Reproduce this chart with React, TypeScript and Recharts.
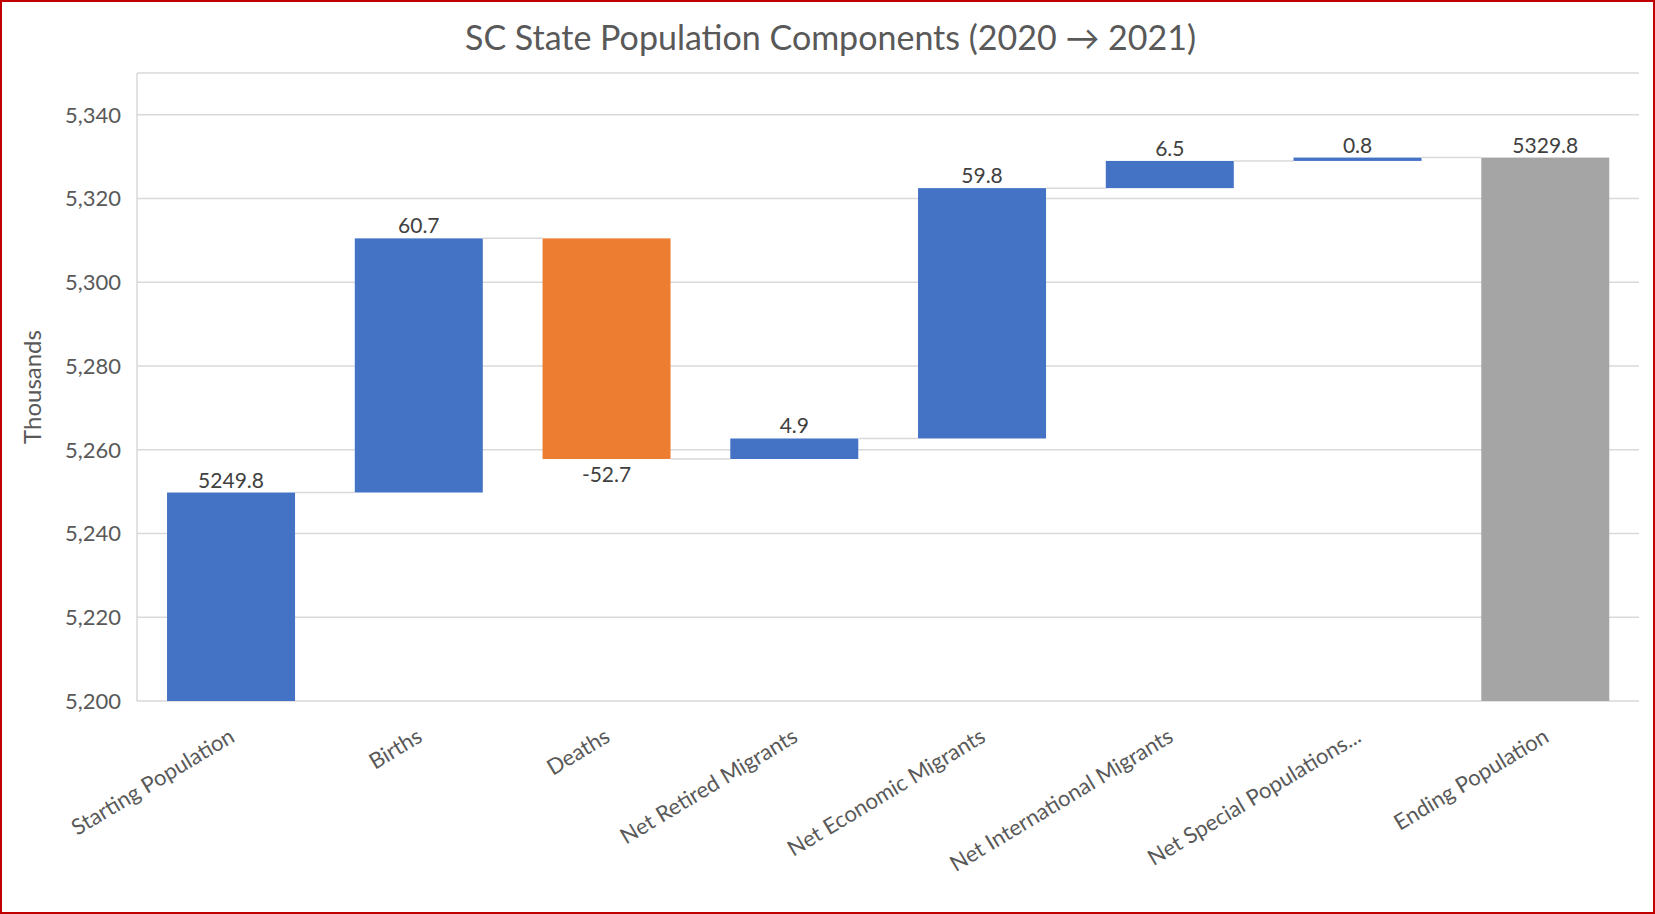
import { BarChart, Bar, XAxis, YAxis, CartesianGrid, LabelList } from "recharts";

const categories = [
  "Starting Population",
  "Births",
  "Deaths",
  "Net Retired Migrants",
  "Net Economic Migrants",
  "Net International Migrants",
  "Net Special Populations...",
  "Ending Population",
];
const startingPopulation = 5249.8;
const componentChanges = [60.7, -52.7, 4.9, 59.8, 6.5, 0.8];
const endingPopulation = 5329.8;
const yTicks = [5200, 5220, 5240, 5260, 5280, 5300, 5320, 5340];

const WIDTH = 1655;
const HEIGHT = 914;
const MARGIN = { top: 73, right: 16, bottom: 0, left: 0 };
const Y_AXIS_W = 137;
const X_AXIS_H = 213;
const PLOT_W = WIDTH - MARGIN.left - MARGIN.right - Y_AXIS_W;
const STEP = PLOT_W / categories.length;
const FONT = "Lato, 'Open Sans', sans-serif";

const COLORS = { up: "#4472C4", down: "#ED7D31", total: "#A5A5A5" };

type Kind = "up" | "down" | "total";
type Row = { name: string; range: [number, number]; label: string; kind: Kind };

// running totals for the floating bars
const rows: Row[] = [];
let running = startingPopulation;
rows.push({
  name: categories[0],
  range: [0, startingPopulation],
  label: startingPopulation.toFixed(1),
  kind: "up",
});
componentChanges.forEach((c, i) => {
  const next = running + c;
  rows.push({
    name: categories[i + 1],
    range: [Math.min(running, next), Math.max(running, next)],
    label: c.toFixed(1),
    kind: c >= 0 ? "up" : "down",
  });
  running = next;
});
rows.push({
  name: categories[categories.length - 1],
  range: [0, endingPopulation],
  label: endingPopulation.toFixed(1),
  kind: "total",
});

function WaterfallBar(props: any) {
  const { x, y, width, height, index } = props;
  const row = rows[index];
  const top = Math.min(y, y + height);
  const h = Math.abs(height);
  const level = row.kind === "down" ? top + h : top;
  const last = index === rows.length - 1;
  return (
    <g>
      <rect x={x} y={top} width={width} height={h} fill={COLORS[row.kind]} />
      {!last && (
        <line
          x1={x + width}
          x2={x + STEP}
          y1={level}
          y2={level}
          stroke="#D9D9D9"
          strokeWidth={1.5}
        />
      )}
    </g>
  );
}

function ValueLabel(props: any) {
  const vb = props.viewBox ?? props;
  const x = props.x ?? vb.x;
  const y = props.y ?? vb.y;
  const width = props.width ?? vb.width;
  const height = props.height ?? vb.height;
  const row = rows[props.index];
  const top = Math.min(y, y + height);
  const bottom = Math.max(y, y + height);
  const cx = x + width / 2;
  const common = {
    x: cx,
    textAnchor: "middle" as const,
    fill: "#404040",
    fontSize: 21,
    fontFamily: FONT,
  };
  if (row.kind === "down") {
    return (
      <text {...common} y={bottom + 7} dy="0.78em">
        {row.label}
      </text>
    );
  }
  return (
    <text {...common} y={top - 5}>
      {row.label}
    </text>
  );
}

function CategoryTick({ x, y, payload }: any) {
  return (
    <g transform={`translate(${x - 3},${y + 26})`}>
      <text
        textAnchor="end"
        transform="rotate(-31)"
        dy="0.72em"
        fill="#595959"
        fontSize={22}
        fontFamily={FONT}
      >
        {payload.value}
      </text>
    </g>
  );
}

export default function App() {
  return (
    <div
      style={{
        position: "absolute",
        left: 0,
        top: 0,
        width: WIDTH,
        height: HEIGHT,
        background: "#fff",
        fontFamily: FONT,
        overflow: "hidden",
      }}
    >
      <div
        style={{
          position: "absolute",
          left: 0,
          top: 16,
          width: WIDTH,
          textAlign: "center",
          fontSize: 34,
          color: "#595959",
          paddingLeft: 3,
        }}
      >
        SC State Population Components (2020 → 2021)
      </div>
      <div
        style={{
          position: "absolute",
          left: 31,
          top: 387,
          transform: "translate(-50%, -50%) rotate(-90deg)",
          fontSize: 24,
          color: "#595959",
          whiteSpace: "nowrap",
        }}
      >
        Thousands
      </div>
      <BarChart
        width={WIDTH}
        height={HEIGHT}
        data={rows}
        margin={MARGIN}
        barCategoryGap="16%"
      >
        <CartesianGrid vertical={false} stroke="#D9D9D9" strokeWidth={1.5} />
        <XAxis
          dataKey="name"
          interval={0}
          height={X_AXIS_H}
          axisLine={false}
          tickLine={false}
          tickSize={0}
          tickMargin={0}
          tick={<CategoryTick />}
        />
        <YAxis
          width={Y_AXIS_W}
          domain={[5200, 5350]}
          ticks={yTicks}
          allowDataOverflow
          tickLine={false}
          tickSize={0}
          tickMargin={16}
          axisLine={{ stroke: "#D9D9D9", strokeWidth: 1.5 }}
          tickFormatter={(v: number) => v.toLocaleString("en-US")}
          tick={{ fill: "#595959", fontSize: 22, fontFamily: FONT }}
        />
        <Bar dataKey="range" shape={<WaterfallBar />} isAnimationActive={false}>
          <LabelList dataKey="label" content={<ValueLabel />} />
        </Bar>
      </BarChart>
      <div
        style={{
          position: "absolute",
          left: 0,
          top: 0,
          width: WIDTH,
          height: HEIGHT,
          boxSizing: "border-box",
          border: "2px solid #C00000",
          pointerEvents: "none",
        }}
      />
    </div>
  );
}
